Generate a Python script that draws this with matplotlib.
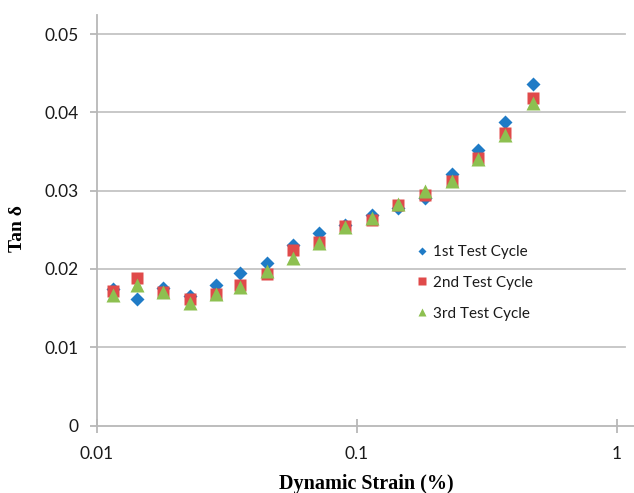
import matplotlib.pyplot as plt
from matplotlib.ticker import FixedLocator, NullLocator

# dynamic strain (%) and tan delta for the three test cycles
strain = [0.0115, 0.0143, 0.0179, 0.0228, 0.0286, 0.0355, 0.0451, 0.0567, 0.0714,
          0.0899, 0.114, 0.144, 0.183, 0.231, 0.292, 0.371, 0.475]
cycle1 = [0.0174, 0.0161, 0.0176, 0.0166, 0.0180, 0.0195, 0.0207, 0.0230, 0.0246,
          0.0256, 0.0269, 0.0278, 0.0291, 0.0321, 0.0352, 0.0388, 0.0436]
cycle2 = [0.0172, 0.0189, 0.0170, 0.0161, 0.0168, 0.0180, 0.0194, 0.0224, 0.0235,
          0.0255, 0.0262, 0.0282, 0.0295, 0.0313, 0.0342, 0.0374, 0.0419]
cycle3 = [0.0167, 0.0180, 0.0170, 0.0157, 0.0168, 0.0177, 0.0197, 0.0214, 0.0233,
          0.0254, 0.0265, 0.0283, 0.0299, 0.0313, 0.0341, 0.0371, 0.0412]

labels = ['1st Test Cycle', '2nd Test Cycle', '3rd Test Cycle']
yticks = [0, 0.01, 0.02, 0.03, 0.04, 0.05]
ytick_labels = ['0', '0.01', '0.02', '0.03', '0.04', '0.05']
xticks = [0.01, 0.1, 1]
xtick_labels = ['0.01', '0.1', '1']

fig = plt.figure(figsize=(6.34, 4.93), dpi=100)
ax = fig.add_axes([97 / 634, 1 - 425.5 / 493, 1 - 97 / 634, (425.5 - 15) / 493])

grid_col = '#c4c4c4'
for y in yticks[1:]:
    ax.axhline(y, xmin=0, xmax=0.983, color=grid_col, lw=1.3, zorder=0)

ax.plot(strain, cycle1, 'D', color='#1f7bc6', ms=6.8, mec='none', label=labels[0], zorder=3)
ax.plot(strain, cycle2, 's', color='#e04a4a', ms=9.2, mec='none', label=labels[1], zorder=4)
ax.plot(strain, cycle3, '^', color='#8dc050', ms=9.6, mec='none', label=labels[2], zorder=5)

ax.set_xscale('log')
ax.set_xlim(0.01, 10 ** ((634 - 97) / 260 - 2))
ax.set_ylim(0, 0.05245)

ax.xaxis.set_major_locator(FixedLocator(xticks))
ax.xaxis.set_minor_locator(NullLocator())
ax.set_xticklabels(xtick_labels)
ax.set_yticks(yticks)
ax.set_yticklabels(ytick_labels)

for s in ['top', 'right']:
    ax.spines[s].set_visible(False)
for s in ['left', 'bottom']:
    ax.spines[s].set_color('#b8b8b8')
    ax.spines[s].set_linewidth(1.3)

tick_font = {'family': 'Lato', 'size': 12.5, 'color': '#1a1a1a'}
ax.tick_params(axis='y', direction='out', length=5, width=1.3, color='#b8b8b8', pad=8)
ax.tick_params(axis='x', direction='inout', length=10, width=1.3, color='#b8b8b8', pad=10)
for t in ax.get_xticklabels() + ax.get_yticklabels():
    t.set_fontfamily(tick_font['family'])
    t.set_fontsize(tick_font['size'])
    t.set_color(tick_font['color'])

fig.text(366 / 634, 1 - 484 / 493, 'Dynamic Strain (%)', family='Liberation Serif',
         weight='bold', size=14.5, ha='center', va='center')
fig.text(18 / 634, 1 - 229 / 493, 'Tan δ', family='Liberation Serif',
         weight='bold', size=14, ha='center', va='center', rotation=90)

leg = ax.legend(loc='upper left', bbox_to_anchor=(416 / 634, 1 - 245 / 493),
                bbox_transform=fig.transFigure, frameon=False, borderpad=0,
                borderaxespad=0, handlelength=0.8, handletextpad=0.3,
                labelspacing=1.1, markerscale=0.58, prop={'family': 'Lato', 'size': 11})
for t in leg.get_texts():
    t.set_color('#1a1a1a')

fig.savefig('out.png', dpi=100)
